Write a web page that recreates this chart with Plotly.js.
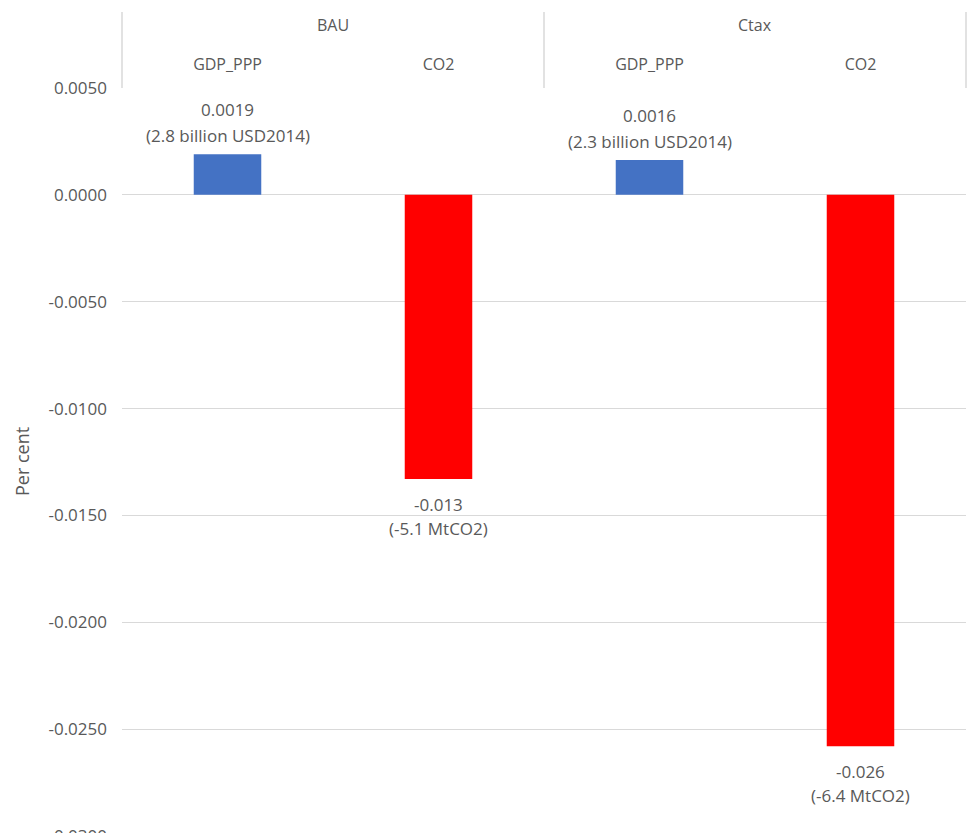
<!DOCTYPE html>
<html>
<head>
<meta charset="utf-8">
<script src="https://cdn.plot.ly/plotly-3.0.1.min.js"></script>
<style>
html,body{margin:0;padding:0;overflow:hidden;background:#fff;}
#chart{width:972px;height:860px;}
</style>
</head>
<body>
<div id="chart"></div>
<script>
// ---- data ----
const groups = ["BAU", "BAU", "Ctax", "Ctax"];
const subs = ["GDP_PPP", "CO2", "GDP_PPP", "CO2"];
const values = [0.0019, -0.0133, 0.00163, -0.0258];
const valueLabels = ["0.0019", "-0.013", "0.0016", "-0.026"];
const detailLabels = ["(2.8 billion USD2014)", "(-5.1 MtCO2)", "(2.3 billion USD2014)", "(-6.4 MtCO2)"];
const barColors = ["#4472C4", "#FF0000", "#4472C4", "#FF0000"];
const groupNames = ["BAU", "Ctax"];
const yTickVals = [0.005, 0, -0.005, -0.01, -0.015, -0.02, -0.025, -0.03];
const yTickText = ["0.0050", "0.0000", "-0.0050", "-0.0100", "-0.0150", "-0.0200", "-0.0250", "-0.0300"];

const cats = groups.map((g, i) => g + " " + subs[i]);
const FONT = "Open Sans, Liberation Sans, sans-serif";
const GREY = "#595959";

const trace = {
  type: "bar",
  x: cats,
  y: values,
  marker: {color: barColors},
  width: 0.32,
  hoverinfo: "x+y"
};

const annotations = [];
values.forEach((v, i) => {
  const pos = v >= 0;
  annotations.push({
    xref: "x", yref: "y", x: cats[i], y: v,
    text: valueLabels[i], showarrow: false,
    yanchor: "middle", yshift: pos ? 45 : -25,
    font: {family: FONT, size: 17, color: GREY}
  });
  annotations.push({
    xref: "x", yref: "y", x: cats[i], y: v,
    text: detailLabels[i], showarrow: false,
    yanchor: "middle", yshift: pos ? 19 : -49,
    font: {family: FONT, size: 17, color: GREY}
  });
});
groupNames.forEach(g => {
  const idx = groups.map((x, i) => x === g ? i : -1).filter(i => i >= 0);
  const center = idx.reduce((a, b) => a + b, 0) / idx.length;
  annotations.push({
    xref: "x", yref: "paper", x: center, y: 1,
    yanchor: "middle", yshift: 63,
    text: g, showarrow: false,
    font: {family: FONT, size: 16, color: GREY}
  });
});
// y-axis title
annotations.push({
  xref: "paper", yref: "paper", x: 0, y: 0.5,
  xanchor: "center", yanchor: "middle", xshift: -100,
  text: "Per cent", textangle: -90, showarrow: false,
  font: {family: FONT, size: 18, color: GREY}
});

const boxH = 76 / 748;
const shapes = [0, 0.5, 1].map(px => ({
  type: "line", xref: "paper", yref: "paper",
  x0: px, x1: px, y0: 1, y1: 1 + boxH,
  line: {color: "#D9D9D9", width: 1.5}
}));

const layout = {
  width: 972, height: 860,
  margin: {l: 122, r: 6, t: 88, b: 24},
  paper_bgcolor: "#fff", plot_bgcolor: "#fff",
  showlegend: false,
  font: {family: FONT, color: GREY},
  xaxis: {
    type: "category",
    side: "top",
    tickmode: "array",
    tickvals: cats,
    ticktext: subs,
    showgrid: false, showline: false, zeroline: false,
    ticks: "",
    ticklabelstandoff: 14,
    tickfont: {family: FONT, size: 16, color: GREY},
    fixedrange: true
  },
  yaxis: {
    range: [-0.03, 0.005],
    tickmode: "array",
    tickvals: yTickVals,
    ticktext: yTickText,
    showgrid: true, gridcolor: "#D9D9D9", gridwidth: 1,
    zeroline: true, zerolinecolor: "#D9D9D9", zerolinewidth: 1,
    showline: false, ticks: "",
    ticklabelstandoff: 14,
    tickfont: {family: FONT, size: 17, color: GREY},
    fixedrange: true
  },
  annotations: annotations,
  shapes: shapes
};

Plotly.newPlot("chart", [trace], layout, {displayModeBar: false, staticPlot: true});
</script>
</body>
</html>
